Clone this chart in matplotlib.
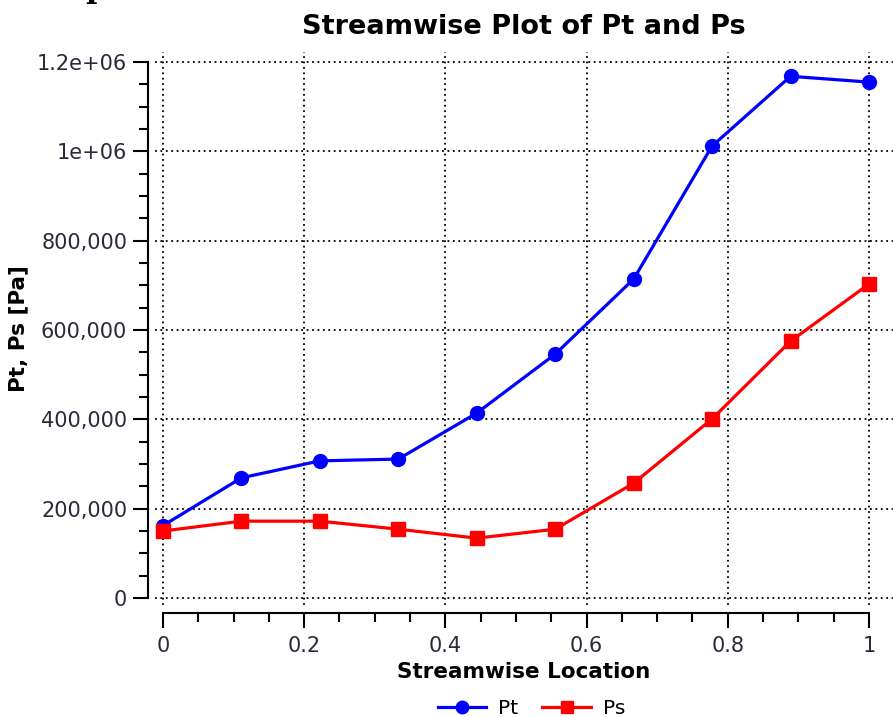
import matplotlib
matplotlib.use("Agg")
import matplotlib.pyplot as plt
from matplotlib.ticker import MultipleLocator

loc = [0, 1/9, 2/9, 3/9, 4/9, 5/9, 6/9, 7/9, 8/9, 1]
pt = [162000, 269000, 307000, 311000, 414000, 546000, 714000, 1012000, 1168000, 1155000]
ps = [150000, 172000, 172000, 154000, 134000, 154000, 257000, 401000, 575000, 703000]

yticks = [0, 200000, 400000, 600000, 800000, 1000000, 1200000]
ylabels = ["0", "200,000", "400,000", "600,000", "800,000", "1e+06", "1.2e+06"]
xticks = [0, 0.2, 0.4, 0.6, 0.8, 1]
xlabels = ["0", "0.2", "0.4", "0.6", "0.8", "1"]

fig = plt.figure(figsize=(8.93, 7.17), dpi=100)
ax = fig.add_axes([155/893, 112/717, 738/893, 553/717])

ax.plot(loc, pt, color="#0000ff", lw=2.3, marker="o", ms=10, label="Pt", zorder=3)
ax.plot(loc, ps, color="#ff0000", lw=2.3, marker="s", ms=10, label="Ps", zorder=3)

ax.set_xlim(-0.0113, 1.034)
ax.set_ylim(-15700, 1222400)

ax.set_xticks(xticks)
ax.set_xticklabels(xlabels)
ax.set_yticks(yticks)
ax.set_yticklabels(ylabels)
ax.xaxis.set_minor_locator(MultipleLocator(0.05))
ax.yaxis.set_minor_locator(MultipleLocator(50000))
ax.tick_params(which="major", length=11, width=1.5, labelsize=15, labelcolor="#2a2a3a", pad=4)
ax.tick_params(which="minor", length=6.5, width=1.5)
ax.tick_params(axis="x", which="major", pad=5)

ax.grid(True, which="major", color="black", linestyle=(0, (1, 2)), linewidth=1.3)

for s in ["top", "right"]:
    ax.spines[s].set_visible(False)
ax.spines["left"].set_position(("outward", 5))
ax.spines["bottom"].set_position(("outward", 6))
ax.spines["left"].set_bounds(0, 1200000)
ax.spines["bottom"].set_bounds(0, 1)
ax.spines["left"].set_linewidth(1.5)
ax.spines["bottom"].set_linewidth(1.5)

ax.set_title("Streamwise Plot of Pt and Ps", fontsize=19.5, fontweight="bold", pad=13)
ax.set_xlabel("Streamwise Location", fontsize=15.5, fontweight="bold", labelpad=5)
ax.set_ylabel("Pt, Ps [Pa]", fontsize=15.5, fontweight="bold", labelpad=6)

ax.legend(loc="upper center", bbox_to_anchor=(0.51, -0.137), ncol=2, frameon=False,
          fontsize=14.5, handlelength=2.4, columnspacing=1.2, handletextpad=0.6, markerscale=0.9)

fig.text(85/893, 1 + 3/717, "p", family="DejaVu Serif", fontweight="bold", fontsize=22,
         va="baseline", ha="left")

fig.savefig("out.png", dpi=100)
